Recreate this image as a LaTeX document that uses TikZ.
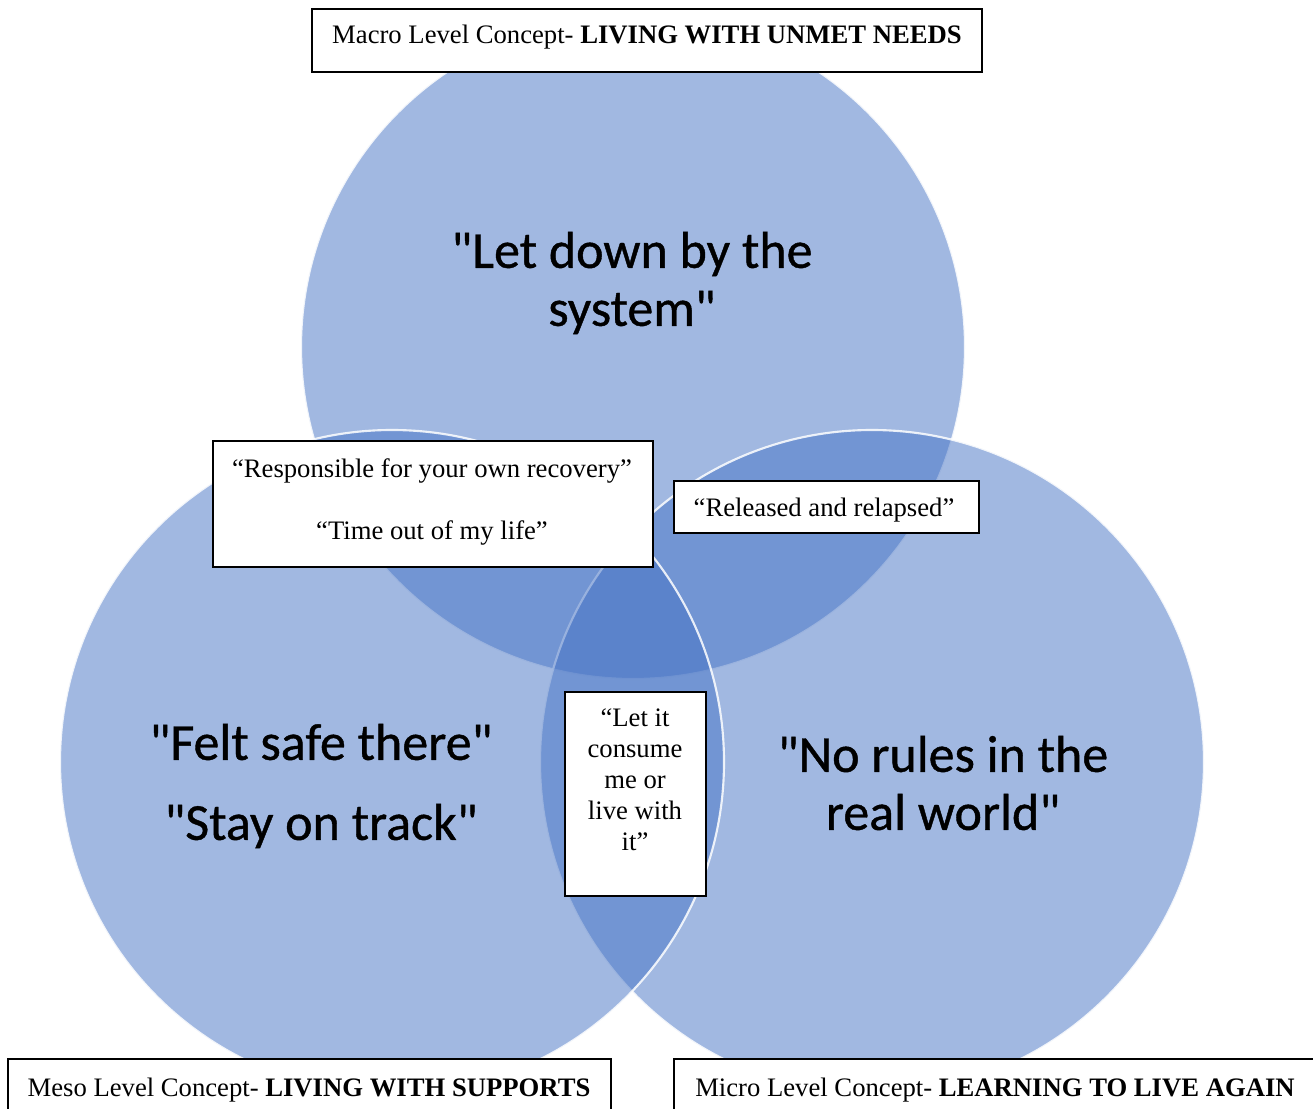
\documentclass[tikz,border=0pt]{standalone}
\usepackage{fontspec}
\setmainfont{Liberation Serif}
\newfontfamily\circlefont[FakeBold=0.8]{Carlito}
\definecolor{vennblue}{HTML}{4472C4}
\begin{document}
\begin{tikzpicture}[x=0.75pt,y=-0.75pt,
  venn/.style={circle, minimum size=498pt, inner sep=0pt,
    fill=vennblue, fill opacity=0.5, draw=white, draw opacity=0.85, line width=1.6pt},
  bigtext/.style={font=\circlefont\fontsize{39pt}{43.5pt}\selectfont, align=center, text=black},
  quotebox/.style={draw=black, fill=white, line width=0.9pt, inner sep=0pt},
  boxtext/.style={font=\fontsize{20pt}{23.25pt}\selectfont, align=center, inner sep=0pt}]
  \clip (0,0) rectangle (1313,1109);
  \useasboundingbox (0,0) rectangle (1313,1109);

  % the three overlapping circles
  \node[venn] (macro) at (633,347) {};
  \node[venn] (micro) at (872,762) {};
  \node[venn] (meso)  at (392,762) {};

  % phrases inside the circles
  \node[bigtext] (letdown) at (632,283) {"Let down by the\\system"};
  \node[bigtext] (feltsafe) at (321,786) {"Felt safe there"\\[16.5pt]"Stay on track"};
  \node[bigtext] (norules) at (943,783) {"No rules in the\\real world"};

  % level headings
  \node[quotebox, minimum width=502.5pt, minimum height=47.25pt] (macrobox) at (647,40.5) {};
  \node[boxtext, anchor=base] (macrotext) at (647,44) {Macro Level Concept- \textbf{LIVING WITH UNMET NEEDS}};

  \node[quotebox, minimum width=452.25pt, minimum height=60pt] (mesobox) at (309.5,1099) {};
  \node[boxtext, anchor=base] (mesotext) at (309,1096) {Meso Level Concept- \textbf{LIVING WITH SUPPORTS}};

  \node[quotebox, minimum width=492pt, minimum height=60pt] (microbox) at (1002,1099) {};
  \node[boxtext, anchor=base] (microtext) at (995,1096) {Micro Level Concept- \textbf{LEARNING TO LIVE AGAIN}};

  % quotes in the overlaps
  \node[quotebox, minimum width=330pt, minimum height=94.5pt] (respbox) at (433,504) {};
  \node[boxtext] (resptext) at (432,502) {“Responsible for your own recovery”\\[23.25pt]“Time out of my life”};

  \node[quotebox, minimum width=228.75pt, minimum height=39pt] (relbox) at (826.5,507) {};
  \node[boxtext, anchor=base] (reltext) at (824,516) {“Released and relapsed”};

  \node[quotebox, minimum width=105.75pt, minimum height=153pt] (letbox) at (635.5,794) {};
  \node[boxtext] (lettext) at (635,780) {“Let it\\consume\\me or\\live with\\it”};
\end{tikzpicture}
\end{document}
